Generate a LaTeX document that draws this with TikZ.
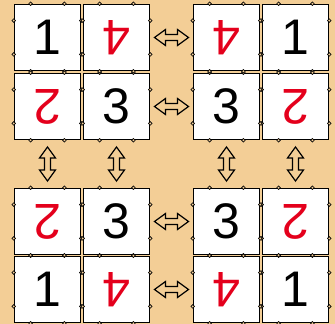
\documentclass[tikz,border=0pt]{standalone}
\usepackage{fontspec}
\setmainfont{Liberation Sans}
\usetikzlibrary{shapes.arrows,calc}
\definecolor{parch}{RGB}{243,206,150}
\definecolor{red}{RGB}{228,0,28}

\tikzset{
  tile/.style={draw=black, line width=1.6pt, fill=white, minimum size=66pt,
    inner sep=0pt, font=\fontsize{50}{50}\selectfont},
  flip/.style={tile, text=red, rotate=180},
  swap/.style={double arrow, draw=black, line width=1.2pt, fill=parch,
    minimum height=34pt, inner sep=2.4pt, double arrow head extend=5pt,
    double arrow tip angle=72},
  notch/.style={draw=black, line width=0.7pt, fill=parch}
}

\begin{document}
\begin{tikzpicture}[x=1pt,y=-1pt]

% Background
\fill[parch] (0,0) rectangle (335,324);
\useasboundingbox (0,0) rectangle (335,324);

% Top left group
\node[tile] (a1) at (47.5,37.5)  {1};
\node[flip] (a4) at (116.5,37.5) {4};
\node[flip] (a2) at (47.5,106.5) {2};
\node[tile] (a3) at (116.5,106.5) {3};

% Top right group
\node[flip] (b4) at (226.5,37.5)  {4};
\node[tile] (b1) at (295.5,37.5)  {1};
\node[tile] (b3) at (226.5,106.5) {3};
\node[flip] (b2) at (295.5,106.5) {2};

% Bottom left group
\node[flip] (c2) at (47.5,221.5)  {2};
\node[tile] (c3) at (116.5,221.5) {3};
\node[tile] (c1) at (47.5,289.5)  {1};
\node[flip] (c4) at (116.5,289.5) {4};

% Bottom right group
\node[tile] (d3) at (226.5,221.5) {3};
\node[flip] (d2) at (295.5,221.5) {2};
\node[flip] (d4) at (226.5,289.5) {4};
\node[tile] (d1) at (295.5,289.5) {1};

% Notches on the tile edges
\foreach \t in {a1,a2,a3,a4,b1,b2,b3,b4,c1,c2,c3,c4,d1,d2,d3,d4} {
  \foreach \p in {0.25,0.75} {
    \filldraw[notch] ($(\t.north west)!\p!(\t.north east)$) circle (1.8pt);
    \filldraw[notch] ($(\t.south west)!\p!(\t.south east)$) circle (1.8pt);
    \filldraw[notch] ($(\t.north west)!\p!(\t.south west)$) circle (1.8pt);
    \filldraw[notch] ($(\t.north east)!\p!(\t.south east)$) circle (1.8pt);
  }
}

% Swap arrows, left to right
\node[swap] (h1) at ($(a4.center)!0.5!(b4.center)$) {};
\node[swap] (h2) at ($(a3.center)!0.5!(b3.center)$) {};
\node[swap] (h3) at ($(c3.center)!0.5!(d3.center)$) {};
\node[swap] (h4) at ($(c4.center)!0.5!(d4.center)$) {};

% Swap arrows, top to bottom
\node[swap, rotate=90] (v1) at ($(a2.center)!0.5!(c2.center)$) {};
\node[swap, rotate=90] (v2) at ($(a3.center)!0.5!(c3.center)$) {};
\node[swap, rotate=90] (v3) at ($(b3.center)!0.5!(d3.center)$) {};
\node[swap, rotate=90] (v4) at ($(b2.center)!0.5!(d2.center)$) {};

\end{tikzpicture}
\end{document}
